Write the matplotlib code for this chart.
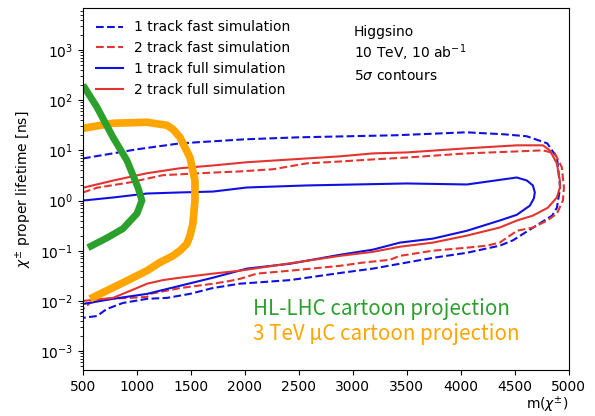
import matplotlib
matplotlib.use("Agg")
import matplotlib.pyplot as plt

# 5 sigma contours, chargino mass [GeV] vs proper lifetime [ns]
# 1 track, fast simulation
m_1trk_fast = [500, 1000, 1400, 2000, 2500, 3400, 4050, 4400, 4610, 4800, 4890, 4920,
               4900, 4890, 4845, 4730, 4480, 4360, 4056, 3740, 3435, 3185, 2880, 2420,
               1950, 1700, 1490, 1280, 1093, 870, 720, 630, 500]
tau_1trk_fast = [6.9, 10.5, 13.8, 16.6, 18.2, 20.0, 22.9, 20.9, 19.1, 13.8, 7.2, 1.8,
                 1.0, 0.72, 0.50, 0.35, 0.16, 0.126, 0.091, 0.072, 0.055, 0.044, 0.036, 0.026,
                 0.022, 0.018, 0.0138, 0.0115, 0.011, 0.0091, 0.0069, 0.005, 0.0046]

# 2 track, fast simulation
m_2trk_fast = [500, 630, 935, 1240, 1700, 1950, 2260, 2570, 2880, 3185, 3500, 4056,
               4760, 4870, 4935, 4955, 4945, 4890, 4800, 4670, 4520, 4360, 4240, 4056,
               3740, 3435, 3343, 3093, 2880, 2417, 2111, 1954, 1861, 1704, 1398, 1120,
               1093, 935, 722, 565, 500]
tau_2trk_fast = [1.45, 1.8, 2.3, 3.2, 3.6, 3.8, 4.2, 5.5, 6.0, 6.6, 7.2, 8.7,
                 10.0, 8.7, 4.6, 1.8, 1.0, 0.55, 0.40, 0.29, 0.25, 0.145, 0.126, 0.115,
                 0.10, 0.079, 0.066, 0.058, 0.050, 0.040, 0.035, 0.0275, 0.025, 0.022, 0.018, 0.0138,
                 0.012, 0.0115, 0.011, 0.0091, 0.0069]

# 1 track, full simulation
m_1trk_full = [500, 778, 1093, 1398, 1704, 2018, 2574, 3500, 4056, 4518, 4611, 4667,
               4685, 4676, 4639, 4518, 4360, 4056, 3740, 3435, 3185, 2880, 2417, 2018,
               1704, 1398, 1093, 778, 500]
tau_1trk_full = [1.0, 1.15, 1.38, 1.45, 1.51, 1.82, 2.0, 2.19, 2.09, 2.88, 2.51, 2.0,
                 1.45, 1.1, 0.79, 0.52, 0.40, 0.25, 0.174, 0.145, 0.105, 0.083, 0.055, 0.044,
                 0.029, 0.020, 0.0138, 0.011, 0.0087]

# 2 track, full simulation
m_2trk_full = [500, 778, 1093, 1398, 1704, 2018, 2574, 2880, 3185, 3500, 4056, 4520,
               4760, 4824, 4889, 4917, 4917, 4889, 4806, 4667, 4520, 4360, 4056, 3740,
               3435, 3185, 2880, 2574, 2260, 1954, 1704, 1398, 1241, 1093, 935, 778, 500]
tau_2trk_full = [1.8, 2.5, 3.5, 4.4, 5.0, 5.8, 6.9, 7.6, 8.7, 9.1, 11.0, 12.6,
                 12.6, 10.0, 5.5, 2.5, 1.8, 1.15, 0.72, 0.50, 0.40, 0.29, 0.20, 0.145,
                 0.12, 0.095, 0.079, 0.063, 0.050, 0.040, 0.035, 0.029, 0.026, 0.022, 0.0158, 0.0115, 0.010]

# cartoon projections
m_hllhc = [500, 630, 778, 907, 1009, 1046, 1000, 870, 722, 546]
tau_hllhc = [200, 72, 18.2, 6.3, 1.82, 1.0, 0.55, 0.275, 0.18, 0.115]

m_mucol3 = [500, 778, 1093, 1278, 1333, 1398, 1444, 1491, 1537, 1537, 1518, 1491,
            1463, 1398, 1333, 1210, 1093, 870, 565]
tau_mucol3 = [27.5, 34.7, 36.3, 31.6, 26.3, 18.2, 11.5, 7.2, 2.5, 1.0, 0.35, 0.2,
              0.138, 0.1, 0.079, 0.058, 0.040, 0.023, 0.011]

xticks = [500, 1000, 1500, 2000, 2500, 3000, 3500, 4000, 4500, 5000]

red = "#e3342f"
blue = "#1010e0"

fig = plt.figure(figsize=(5.95, 4.16), dpi=100)
ax = fig.add_axes([0.1395, 0.1106, 0.8165, 0.8704])

ax.plot(m_1trk_fast, tau_1trk_fast, "--", color=blue, lw=1.5, label="1 track fast simulation")
ax.plot(m_2trk_fast, tau_2trk_fast, "--", color=red, lw=1.5, label="2 track fast simulation")
ax.plot(m_1trk_full, tau_1trk_full, "-", color=blue, lw=1.5, label="1 track full simulation")
ax.plot(m_2trk_full, tau_2trk_full, "-", color=red, lw=1.5, label="2 track full simulation")

ax.plot(m_mucol3, tau_mucol3, color="orange", lw=5.5, solid_capstyle="butt",
        solid_joinstyle="round")
ax.plot(m_hllhc, tau_hllhc, color="#2ca02c", lw=5, solid_capstyle="butt",
        solid_joinstyle="round")

ax.set_yscale("log")
ax.set_xlim(500, 5000)
ax.set_ylim(4.2e-4, 6.9e3)
ax.set_xticks(xticks)

ax.set_ylabel(r"$\chi^{\pm}$ proper lifetime [ns]")
ax.set_xlabel(r"m($\chi^{\pm}$)", loc="right", labelpad=1)

ax.legend(loc="upper left", frameon=False, fontsize=10)

ax.text(0.558, 0.923, "Higgsino", transform=ax.transAxes, fontsize=10)
ax.text(0.558, 0.862, r"10 TeV, 10 ab$^{-1}$", transform=ax.transAxes, fontsize=10)
ax.text(0.558, 0.801, r"5$\sigma$ contours", transform=ax.transAxes, fontsize=10)

cjk = ["Noto Sans CJK JP", "DejaVu Sans"]
ax.text(0.35, 0.152, "HL-LHC cartoon projection", transform=ax.transAxes,
        color="#2ca02c", fontsize=14.8, family=cjk)
ax.text(0.35, 0.083, "3 TeV μC cartoon projection", transform=ax.transAxes,
        color="orange", fontsize=14.8, family=cjk)

fig.savefig("out.png", dpi=100)
